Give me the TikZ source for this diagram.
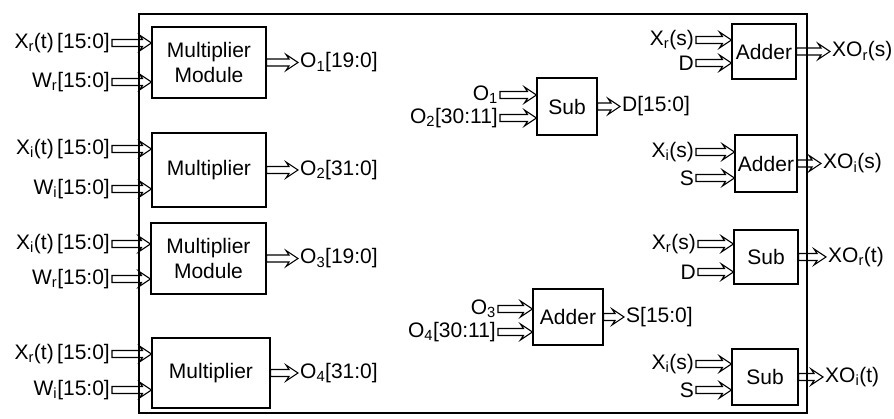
\documentclass[tikz,border=0pt]{standalone}
\usepackage{fontspec}
\setmainfont{Liberation Sans}
\usetikzlibrary{calc}
\newcommand\sbx[1]{\textsubscript{#1}}
\begin{document}
\begin{tikzpicture}[x=1pt,y=-1pt,
  txt/.style={font=\fontsize{21}{25}\selectfont},
  blk/.style={txt, draw, line width=1.1pt, inner sep=0pt, align=center},
  lab/.style={txt, inner sep=2pt},
  bus/.style={line width=1.1pt, fill=white, line join=miter,
    to path={($(\tikztostart)+(0,-3.5)$) -- ($(\tikztotarget)+(-9,-3.5)$)
      -- ($(\tikztotarget)+(-12,-8)$) -- (\tikztotarget)
      -- ($(\tikztotarget)+(-12,8)$) -- ($(\tikztotarget)+(-9,3.5)$)
      -- ($(\tikztostart)+(0,3.5)$) -- cycle}},
  frame/.style={line width=1.3pt}
]
\useasboundingbox (0,0) rectangle (894,419);

% multiplier blocks
\node[blk, minimum width=114, minimum height=71] (m1) at (209,62.5) {Multiplier\\Module};
\node[blk, minimum width=114, minimum height=74] (m2) at (209,170) {Multiplier};
\node[blk, minimum width=115, minimum height=71] (m3) at (208.5,258.5) {Multiplier\\Module};
\node[blk, minimum width=118, minimum height=70] (m4) at (211,373) {Multiplier};

% middle blocks
\node[blk, minimum width=60, minimum height=57] (s1) at (567,106.5) {Sub};
\node[blk, minimum width=70, minimum height=56] (a1) at (568,317) {Adder};

% right blocks
\node[blk, minimum width=64, minimum height=55] (a2) at (764,51.5) {Adder};
\node[blk, minimum width=62, minimum height=57] (a3) at (766,163.5) {Adder};
\node[blk, minimum width=64, minimum height=54] (s2) at (766,257) {Sub};
\node[blk, minimum width=66, minimum height=56] (s3) at (765,377) {Sub};

% input labels, left
\node[lab, anchor=east] (x1) at (112,43) {X\sbx{r}(t)\,[15:0]};
\node[lab, anchor=east] (w1) at (112,82) {W\sbx{r}[15:0]};
\node[lab, anchor=east] (x2) at (112,149) {X\sbx{i}(t)\,[15:0]};
\node[lab, anchor=east] (w2) at (112,189) {W\sbx{i}[15:0]};
\node[lab, anchor=east] (x3) at (112,244) {X\sbx{i}(t)\,[15:0]};
\node[lab, anchor=east] (w3) at (112,279) {W\sbx{r}[15:0]};
\node[lab, anchor=east] (x4) at (112,354) {X\sbx{r}(t)\,[15:0]};
\node[lab, anchor=east] (w4) at (112,390) {W\sbx{i}[15:0]};

% output labels, left
\node[lab, anchor=west] (o1) at (298,62.5) {O\sbx{1}[19:0]};
\node[lab, anchor=west] (o2) at (298,170) {O\sbx{2}[31:0]};
\node[lab, anchor=west] (o3) at (298,258.5) {O\sbx{3}[19:0]};
\node[lab, anchor=west] (o4) at (298,373) {O\sbx{4}[31:0]};

% middle labels
\node[lab, anchor=east] (p1) at (500,95) {O\sbx{1}};
\node[lab, anchor=east] (p2) at (500,118) {O\sbx{2}[30:11]};
\node[lab, anchor=west] (d) at (620,106.5) {D[15:0]};
\node[lab, anchor=east] (q1) at (498,309) {O\sbx{3}};
\node[lab, anchor=east] (q2) at (498,332) {O\sbx{4}[30:11]};
\node[lab, anchor=west] (s) at (624,317) {S[15:0]};

% right labels
\node[lab, anchor=east] (r1) at (696,40) {X\sbx{r}(s)};
\node[lab, anchor=east] (r2) at (696,63) {D};
\node[lab, anchor=west] (y1) at (830,51.5) {XO\sbx{r}(s)};
\node[lab, anchor=east] (r3) at (696,152) {X\sbx{i}(s)};
\node[lab, anchor=east] (r4) at (696,178) {S};
\node[lab, anchor=west] (y2) at (821,163.5) {XO\sbx{i}(s)};
\node[lab, anchor=east] (r5) at (698,244) {X\sbx{r}(s)};
\node[lab, anchor=east] (r6) at (698,272) {D};
\node[lab, anchor=west] (y3) at (826,257) {XO\sbx{r}(t)};
\node[lab, anchor=east] (r7) at (696,364) {X\sbx{i}(s)};
\node[lab, anchor=east] (r8) at (696,390) {S};
\node[lab, anchor=west] (y4) at (823,377) {XO\sbx{i}(t)};

% connectors
\foreach \a/\b in {x1/m1,w1/m1,x2/m2,w2/m2,x3/m3,w3/m3,x4/m4,w4/m4,
                   p1/s1,p2/s1,q1/a1,q2/a1,r1/a2,r2/a2,r3/a3,r4/a3,
                   r5/s2,r6/s2,r7/s3,r8/s3}
  \draw[bus] (\a.east) to (\a.east -| \b.west);
\foreach \a/\b in {m1/o1,m2/o2,m3/o3,m4/o4,s1/d,a1/s,a2/y1,a3/y2,s2/y3,s3/y4}
  \draw[bus] (\a.east) to (\b.west);

% frame
\draw[frame] (139,14) rectangle (807,413);
\end{tikzpicture}
\end{document}
